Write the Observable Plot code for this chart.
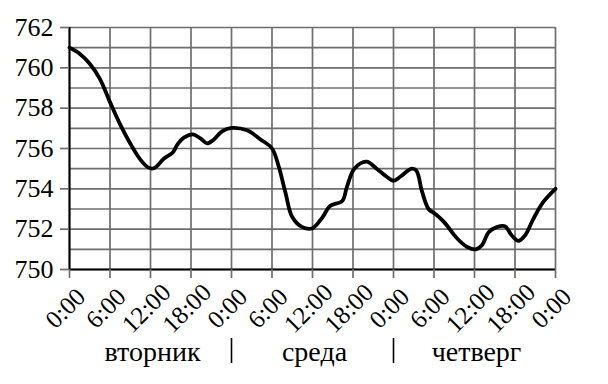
<!DOCTYPE html>
<html>
<head>
<meta charset="utf-8">
<script src="https://cdn.jsdelivr.net/npm/d3@7"></script>
<script src="https://cdn.jsdelivr.net/npm/@observablehq/plot@0.6"></script>
<style>
  html, body { margin: 0; padding: 0; background: #fff; }
</style>
</head>
<body>
<div id="chart"></div>
<script>
// hours since Tuesday 0:00
const hours = [0, 1.5, 3, 4.5, 6, 7.5, 9, 10.5, 11.7, 12.5, 14, 15.3, 16, 17, 18.3, 19.4, 20.4, 21.4, 22.6, 24,
  26.3, 28.3, 30, 31, 32, 33, 34.5, 36, 37.5, 38.6, 40.4, 41.1, 42.2, 44, 45.5, 47, 48, 49, 50.7, 51.4,
  52.2, 53.2, 54.2, 55.5, 57.4, 59, 60.2, 61.1, 62.1, 63.3, 64.5, 65.5, 66.5, 67.5, 68.7, 70.2, 72];
const pressure = [761.0, 760.7, 760.2, 759.45, 758.3, 757.2, 756.25, 755.45, 755.05, 755.02, 755.5, 755.8, 756.2, 756.55, 756.7, 756.5, 756.25, 756.45, 756.85, 757.02,
  756.9, 756.45, 756.0, 755.1, 753.8, 752.6, 752.1, 752.05, 752.6, 753.15, 753.4, 754.1, 755.0, 755.35, 755.0, 754.6, 754.4, 754.6, 755.0, 754.9,
  753.9, 753.0, 752.75, 752.35, 751.55, 751.1, 751.0, 751.2, 751.85, 752.1, 752.15, 751.7, 751.42, 751.7, 752.5, 753.35, 754.0];

const xTicks = [0, 6, 12, 18, 24, 30, 36, 42, 48, 54, 60, 66, 72];
const xTickLabels = ["0:00", "6:00", "12:00", "18:00", "0:00", "6:00", "12:00", "18:00", "0:00", "6:00", "12:00", "18:00", "0:00"];
const yGrid = [750, 751, 752, 753, 754, 755, 756, 757, 758, 759, 760, 761, 762];
const yTicks = [750, 752, 754, 756, 758, 760, 762];
const dayNames = ["вторник", "среда", "четверг"];
const dayMid = [12, 36, 60];
const dayBounds = [24, 48];

const data = hours.map((h, i) => ({h, p: pressure[i]}));
const xLabelData = xTicks.map((t, i) => ({t, label: xTickLabels[i]}));
const dayData = dayNames.map((name, i) => ({name, h: dayMid[i]}));

const font = "Liberation Serif, Times New Roman, serif";
const gridColor = "#6e6e6e";

const chart = Plot.plot({
  width: 608,
  height: 384,
  marginLeft: 69,
  marginRight: 53,
  marginTop: 27,
  marginBottom: 115,
  style: {background: "#fff", color: "#000", fontFamily: font},
  x: {domain: [0, 72]},
  y: {domain: [750, 762]},
  marks: [
    Plot.ruleY(yGrid, {stroke: gridColor, strokeWidth: 1.7}),
    Plot.ruleX(xTicks, {stroke: gridColor, strokeWidth: 1.7}),
    Plot.ruleY([750], {stroke: "#000", strokeWidth: 2.2}),
    Plot.ruleX([0], {stroke: "#000", strokeWidth: 2}),
    Plot.axisY(yTicks, {tickSize: 9, tickPadding: 7, fontSize: 26, label: null, stroke: gridColor, strokeWidth: 1.7, color: "#000"}),
    Plot.axisX(xTicks, {tickSize: 9, tickFormat: () => "", label: null, stroke: gridColor, strokeWidth: 1.7}),
    Plot.text(xLabelData, {x: "t", text: "label", frameAnchor: "bottom", rotate: -45, textAnchor: "middle", lineAnchor: "middle", dx: -4, dy: 39, fontSize: 25, fill: "#000"}),
    Plot.text(dayData, {x: "h", text: "name", frameAnchor: "bottom", textAnchor: "middle", lineAnchor: "bottom", dx: 2, dy: 91, fontSize: 28, fill: "#000"}),
    Plot.ruleX(dayBounds, {dy: 311, insetBottom: 217, stroke: "#000", strokeWidth: 1.6}),
    Plot.line(data, {x: "h", y: "p", curve: "catmull-rom", stroke: "#000", strokeWidth: 3.8})
  ]
});
document.getElementById("chart").appendChild(chart);
</script>
</body>
</html>
